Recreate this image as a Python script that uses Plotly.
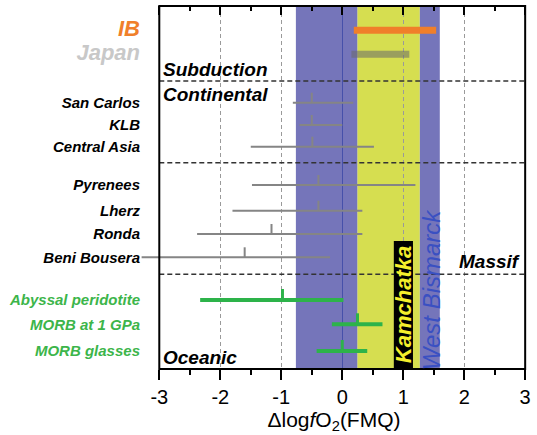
import plotly.graph_objects as go

# ---------------- data ----------------
rows = ["IB", "Japan", "San Carlos", "KLB", "Central Asia", "Pyrenees", "Lherz",
        "Ronda", "Beni Bousera", "Abyssal peridotite", "MORB at 1 GPa", "MORB glasses"]
groups = ["IB", "Japan", "cont", "cont", "cont", "massif", "massif", "massif", "massif",
          "ocean", "ocean", "ocean"]
lo = [0.19, 0.15, -0.81, -0.70, -1.50, -1.48, -1.80, -2.38, -3.29, -2.33, -0.17, -0.42]
hi = [1.54, 1.10, 0.18, 0.00, 0.52, 1.20, 0.33, 0.33, -0.20, 0.02, 0.66, 0.41]
mean = [None, None, -0.50, -0.50, -0.49, -0.39, -0.39, -1.16, -1.60, -0.98, 0.25, 0.00]
kamchatka = [0.25, 1.27]
west_bismarck = [-0.76, 1.60]
x_ticks = [-3, -2, -1, 0, 1, 2, 3]
x_ticktext = ["-3", "-2", "-1", "0", "1", "2", "3"]

# ---------------- layout helpers ----------------
row_y = [24.3, 48.3, 96.7, 119, 140.7, 179, 204.7, 228, 251.3, 294, 318.3, 345]
separators_y = [75, 156.7, 268.3]
FONT = "Liberation Sans, Arial, Helvetica, sans-serif"
GRAY = "#858585"
GREEN = "#2db34a"
ORANGE = "#f07f2a"

fig = go.Figure()

def seg_trace(idx, color, width):
    xs, ys = [], []
    for i in idx:
        xs += [lo[i], hi[i], None]
        ys += [row_y[i], row_y[i], None]
    return go.Scatter(x=xs, y=ys, mode="lines", line=dict(color=color, width=width),
                      hoverinfo="skip", showlegend=False)

def tick_trace(idx, color, width, h):
    xs, ys = [], []
    for i in idx:
        xs += [mean[i], mean[i], None]
        ys += [row_y[i], row_y[i] - h, None]
    return go.Scatter(x=xs, y=ys, mode="lines", line=dict(color=color, width=width),
                      hoverinfo="skip", showlegend=False)

gray_idx = [i for i, g in enumerate(groups) if g in ("cont", "massif")]
green_idx = [i for i, g in enumerate(groups) if g == "ocean"]

fig.add_trace(seg_trace([0], ORANGE, 7))
fig.add_trace(seg_trace([1], "rgba(105,105,105,0.55)", 7))
fig.add_trace(seg_trace(gray_idx, GRAY, 2))
fig.add_trace(tick_trace(gray_idx, GRAY, 2, 10))
fig.add_trace(seg_trace(green_idx, GREEN, 4))
fig.add_trace(tick_trace(green_idx, GREEN, 3, 11))
# anchor trace for the top mirror axis
fig.add_trace(go.Scatter(x=[0], y=[row_y[0]], xaxis="x2", mode="markers",
                         marker=dict(opacity=0), hoverinfo="skip", showlegend=False))

def label(i):
    name = rows[i]
    g = groups[i]
    if g == "IB":
        return f'<span style="color:{ORANGE};font-size:22px"><b><i>{name}</i></b></span>'
    if g == "Japan":
        return f'<span style="color:#c8c8c8;font-size:22px"><b><i>{name}</i></b></span>'
    if g == "ocean":
        return f'<span style="color:#3cb54a"><b><i>{name}</i></b></span>'
    return f"<b><i>{name}</i></b>"

shapes = []
for sy in separators_y:
    shapes.append(dict(type="line", xref="x", yref="y", x0=-3, x1=3, y0=sy, y1=sy,
                       line=dict(color="#333333", width=1.5, dash="5px,3px"), layer="between"))
BLUE = "rgb(71,71,163)"
YELLOW = "rgb(200,211,22)"
shapes.append(dict(type="rect", xref="x", yref="paper", x0=west_bismarck[0], x1=kamchatka[0],
                   y0=0, y1=1, fillcolor=BLUE, opacity=0.75, line=dict(width=0), layer="between"))
shapes.append(dict(type="rect", xref="x", yref="paper", x0=kamchatka[1], x1=west_bismarck[1],
                   y0=0, y1=1, fillcolor=BLUE, opacity=0.75, line=dict(width=0), layer="between"))
shapes.append(dict(type="rect", xref="x", yref="paper", x0=kamchatka[0], x1=kamchatka[1],
                   y0=0, y1=1, fillcolor=YELLOW, opacity=0.75, line=dict(width=0), layer="between"))
# Kamchatka label box
shapes.append(dict(type="rect", xref="x", yref="y", x0=0.846, x1=1.16, y0=235, y1=363,
                   fillcolor="black", line=dict(width=0), layer="between"))
# frame
shapes.append(dict(type="rect", xref="x", yref="paper", x0=-3, x1=3, y0=0, y1=1,
                   line=dict(color="black", width=2), fillcolor="rgba(0,0,0,0)", layer="above"))

annotations = []
def grp_label(text, x, y, anchor, shift):
    annotations.append(dict(text=f"<b><i>{text}</i></b>", x=x, y=y, xref="x", yref="y",
                            xanchor=anchor, yanchor="middle", xshift=shift, showarrow=False,
                            font=dict(size=19, color="black")))
grp_label("Subduction", -3, 63, "left", 2)
grp_label("Continental", -3, 88, "left", 2)
grp_label("Massif", 3, 255, "right", -3)
grp_label("Oceanic", -3, 351, "left", 2)
annotations.append(dict(text="<b><i>Kamchatka</i></b>", x=1.0, y=299, xref="x", yref="y",
                        textangle=-90, showarrow=False, font=dict(size=22, color="#f5ef2c")))
annotations.append(dict(text="<i>West Bismarck</i>", x=1.46, y=283, xref="x", yref="y",
                        textangle=-90, showarrow=False, font=dict(size=24, color="#3a50c2")))

fig.update_layout(
    width=537, height=435,
    margin=dict(l=141, r=7, t=6, b=66),
    plot_bgcolor="white", paper_bgcolor="white",
    font=dict(family=FONT, color="black"),
    showlegend=False,
    shapes=shapes, annotations=annotations,
    xaxis=dict(range=[-3.3, 3.03], tickmode="array", tickvals=x_ticks, ticktext=x_ticktext,
               ticks="outside", ticklen=10, tickwidth=2, tickcolor="black",
               minor=dict(tickmode="linear", tick0=0, dtick=0.5, ticks="outside", ticklen=5,
                          tickwidth=1.5, tickcolor="black", showgrid=False),
               showgrid=True, gridcolor="#9a9a9a", gridwidth=1, griddash="4px,3px",
               zeroline=True, zerolinecolor="#4650aa", zerolinewidth=1.2,
               showline=False, tickfont=dict(size=20),
               title=dict(text="Δlog<i>f</i>O<sub>2</sub>(FMQ)", font=dict(size=21), standoff=4)),
    xaxis2=dict(overlaying="x", matches="x", side="top", anchor="y",
                tickmode="array", tickvals=x_ticks, showticklabels=False,
                ticks="inside", ticklen=9, tickwidth=2, tickcolor="black",
                minor=dict(tickmode="linear", tick0=0, dtick=0.5, ticks="inside", ticklen=5,
                           tickwidth=1.5, tickcolor="black", showgrid=False),
                showgrid=False, zeroline=False, showline=False),
    yaxis=dict(range=[363, 0], tickmode="array", tickvals=row_y,
               ticktext=[label(i) for i in range(len(rows))],
               ticks="", showgrid=False, zeroline=False, showline=False,
               tickfont=dict(size=15, color="black")),
)

fig.write_html("out.html")
